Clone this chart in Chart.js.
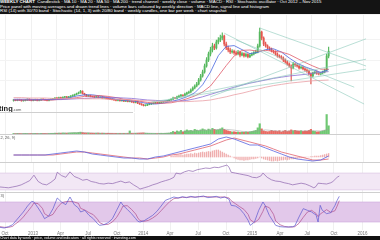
<!DOCTYPE html>
<html><head><meta charset="utf-8">
<script src="https://cdn.jsdelivr.net/npm/chart.js@4.4.1/dist/chart.umd.min.js"></script>
<style>
html,body{margin:0;padding:0;background:#fff;width:380px;height:240px;overflow:hidden;font-family:"Liberation Sans",Arial,sans-serif}
.p{position:absolute;left:0}
canvas{display:block}
#hdr{position:absolute;left:0;top:0;width:380px;height:14px;background:#141414;color:#fff;font-size:4.4px;line-height:4.6px;overflow:hidden;white-space:nowrap}
#ftr{position:absolute;left:0;top:236px;width:380px;height:4px;background:#111;color:#fff;font-size:3.6px;line-height:4px;overflow:hidden;white-space:nowrap}
.sep{position:absolute;left:0;height:1px;background:#cfcfcf}
.lab{position:absolute;font-size:4px;color:#555;white-space:nowrap}
#wm{position:absolute;left:-1px;top:104px;font-weight:bold;font-size:7.5px;color:#222;white-space:nowrap}
#wm span{font-weight:normal;font-size:4px;color:#555}
</style></head>
<body>
<div id="hdr"><b>WEEKLY CHART</b> &nbsp;Candlestick · MA 10 · MA 20 · MA 50 · MA 200 · trend channel · weekly close · volume · MACD · RSI · Stochastic oscillator · Oct 2012 – Nov 2015<br>Price panel with moving averages and drawn trend lines · volume bars coloured by weekly direction · MACD line, signal line and histogram<br>RSI (14) with 30/70 band · Stochastic (14, 1, 3) with 20/80 band · weekly candles, one bar per week · chart snapshot</div>
<canvas id="cMain" class="p" style="top:14px" width="380" height="98"></canvas>
<div id="wm">ting<span>.com</span></div>
<div class="sep" style="top:112px;width:133px"></div>
<canvas id="cVol" class="p" style="top:113px" width="380" height="21"></canvas>
<div class="sep" style="top:134px;width:380px"></div>
<canvas id="cMacd" class="p" style="top:135px" width="380" height="27"></canvas>
<div class="lab" style="left:-3px;top:135px">(12, 26, 9)</div>
<div class="sep" style="top:162px;width:380px"></div>
<canvas id="cRsi" class="p" style="top:163px" width="380" height="29"></canvas>
<div class="sep" style="top:192px;width:380px"></div>
<canvas id="cSto" class="p" style="top:193px" width="380" height="43"></canvas>
<div class="lab" style="left:-12px;top:193px">(14, 1, 3)</div>
<div id="ftr">Chart data by week · price, volume and indicators · all rights reserved · investing.com</div>
<script>
// ---------- DATA ----------
const tickWeeks  = [2.4, 15.6, 28.5, 41.5, 55.2, 67.5, 80.2, 93.4, 106.6, 119, 132, 145, 157.5, 171];
const tickLabels = ["Oct","2013","Apr","Jul","Oct","2014","Apr","Jul","Oct","2015","Apr","Jul","Oct","2016"];

const openP = [
0.49,0.50,0.49,0.51,0.50,0.48,0.49,0.50,0.52,0.50,
0.49,0.50,0.51,0.49,0.50,0.52,0.51,0.50,0.49,0.51,
0.52,0.53,0.55,0.54,0.56,0.55,0.57,0.58,0.56,0.58,
0.60,0.62,0.64,0.66,0.68,0.72,0.66,0.63,0.60,0.61,
0.59,0.58,0.57,0.58,0.56,0.57,0.55,0.56,0.54,0.53,
0.52,0.51,0.50,0.49,0.50,0.48,0.49,0.47,0.48,0.46,
0.47,0.45,0.44,0.46,0.42,0.40,0.38,0.36,0.37,0.39,
0.40,0.41,0.42,0.43,0.42,0.44,0.45,0.46,0.47,0.48,
0.50,0.52,0.55,0.54,0.58,0.60,0.62,0.61,0.65,0.68,
0.70,0.75,0.80,0.85,0.90,1.00,1.10,1.20,1.35,1.50,
1.65,1.75,1.85,1.80,1.95,2.00,2.05,2.10,1.90,1.80,
1.75,1.70,1.72,1.68,1.65,1.70,1.62,1.66,1.60,1.64,
1.58,1.62,1.65,1.68,1.70,1.85,2.20,2.05,1.90,1.85,
1.80,1.78,1.72,1.70,1.65,1.60,1.58,1.55,1.50,1.45,
1.40,1.35,1.30,1.40,1.38,1.35,1.30,1.32,1.28,1.25,
1.22,1.15,1.10,1.18,1.20,1.17,1.15,1.18,1.20,1.25,
1.60];
const highP = [
0.51,0.51,0.52,0.52,0.51,0.50,0.51,0.53,0.53,0.51,
0.51,0.52,0.52,0.51,0.53,0.53,0.52,0.51,0.52,0.53,
0.54,0.56,0.56,0.57,0.57,0.58,0.59,0.59,0.59,0.61,
0.63,0.65,0.67,0.70,0.74,0.73,0.67,0.64,0.62,0.62,
0.60,0.59,0.59,0.59,0.58,0.58,0.57,0.57,0.55,0.54,
0.53,0.52,0.51,0.51,0.51,0.50,0.50,0.49,0.49,0.48,
0.48,0.46,0.47,0.47,0.43,0.41,0.39,0.38,0.40,0.41,
0.42,0.43,0.44,0.44,0.45,0.46,0.47,0.48,0.49,0.51,
0.53,0.57,0.56,0.60,0.62,0.64,0.63,0.67,0.70,0.72,
0.78,0.83,0.88,0.94,1.04,1.14,1.25,1.40,1.56,1.70,
1.82,1.92,1.90,2.00,2.06,2.12,2.18,2.12,1.95,1.85,
1.80,1.76,1.75,1.72,1.74,1.72,1.70,1.68,1.68,1.66,
1.66,1.68,1.71,1.74,1.90,2.30,2.22,2.08,1.95,1.88,
1.83,1.80,1.75,1.73,1.68,1.63,1.61,1.58,1.53,1.48,
1.43,1.38,1.44,1.43,1.41,1.38,1.35,1.35,1.31,1.28,
1.25,1.18,1.20,1.22,1.23,1.20,1.20,1.22,1.27,1.65,
1.82];
const lowP = [
0.47,0.48,0.48,0.49,0.47,0.47,0.48,0.49,0.49,0.48,
0.48,0.49,0.48,0.48,0.49,0.50,0.49,0.48,0.48,0.50,
0.51,0.52,0.53,0.53,0.54,0.54,0.56,0.55,0.55,0.57,
0.59,0.61,0.63,0.65,0.67,0.65,0.62,0.59,0.59,0.58,
0.57,0.56,0.56,0.55,0.55,0.54,0.54,0.53,0.52,0.51,
0.50,0.49,0.48,0.48,0.47,0.47,0.46,0.46,0.45,0.45,
0.44,0.43,0.43,0.41,0.39,0.37,0.35,0.35,0.36,0.38,
0.39,0.40,0.41,0.41,0.41,0.43,0.44,0.45,0.46,0.47,
0.49,0.51,0.53,0.53,0.56,0.58,0.59,0.60,0.63,0.66,
0.68,0.73,0.78,0.83,0.88,0.97,1.07,1.17,1.32,1.46,
1.60,1.70,1.76,1.77,1.90,1.96,2.00,1.85,1.76,1.70,
1.66,1.67,1.64,1.62,1.63,1.58,1.60,1.57,1.58,1.55,
1.56,1.60,1.63,1.66,1.68,1.82,2.00,1.86,1.82,1.77,
1.74,1.70,1.67,1.62,1.57,1.55,1.52,1.46,1.42,1.37,
1.32,0.98,1.28,1.34,1.32,1.27,1.28,1.25,1.22,1.19,
1.12,0.90,1.08,1.15,1.14,1.13,1.13,1.16,1.18,1.22,
1.55];
const closeP = [
0.50,0.49,0.51,0.50,0.48,0.49,0.50,0.52,0.50,0.49,
0.50,0.51,0.49,0.50,0.52,0.51,0.50,0.49,0.51,0.52,
0.53,0.55,0.54,0.56,0.55,0.57,0.58,0.56,0.58,0.60,
0.62,0.64,0.66,0.68,0.72,0.66,0.63,0.60,0.61,0.59,
0.58,0.57,0.58,0.56,0.57,0.55,0.56,0.54,0.53,0.52,
0.51,0.50,0.49,0.50,0.48,0.49,0.47,0.48,0.46,0.47,
0.45,0.44,0.46,0.42,0.40,0.38,0.36,0.37,0.39,0.40,
0.41,0.42,0.43,0.42,0.44,0.45,0.46,0.47,0.48,0.50,
0.52,0.55,0.54,0.58,0.60,0.62,0.61,0.65,0.68,0.70,
0.75,0.80,0.85,0.90,1.00,1.10,1.20,1.35,1.50,1.65,
1.75,1.85,1.80,1.95,2.00,2.05,2.10,1.90,1.80,1.75,
1.70,1.72,1.68,1.65,1.70,1.62,1.66,1.60,1.64,1.58,
1.62,1.65,1.68,1.70,1.85,2.20,2.05,1.90,1.85,1.80,
1.78,1.72,1.70,1.65,1.60,1.58,1.55,1.50,1.45,1.40,
1.35,1.30,1.40,1.38,1.35,1.30,1.32,1.28,1.25,1.22,
1.15,1.10,1.18,1.20,1.17,1.15,1.18,1.20,1.25,1.60,
1.72];
const volume = [
0.5,0.4,0.6,0.5,0.4,0.5,0.6,0.5,0.4,0.5,
0.5,0.6,0.5,0.4,0.6,0.5,0.5,0.4,0.5,0.6,
0.6,0.8,0.7,0.9,0.8,1.0,0.9,0.8,1.0,1.1,
1.2,1.3,1.2,1.5,1.8,1.4,1.0,0.9,1.0,0.8,
0.8,0.7,0.8,0.9,0.7,0.8,0.7,0.6,0.7,0.6,
0.6,0.5,0.6,0.5,0.6,0.5,0.6,0.5,0.6,3.0,
0.6,0.5,0.7,0.8,0.9,1.0,1.1,0.8,0.7,0.6,
0.6,0.5,0.6,0.5,0.6,0.7,0.6,0.7,0.8,0.9,
1.5,2.5,1.8,3.0,2.2,3.5,2.0,3.0,4.0,3.2,
3.5,3.0,4.5,3.8,3.2,4.0,5.0,4.2,3.5,4.8,
4.0,5.5,4.5,3.8,4.2,5.0,6.0,4.5,3.5,3.0,
2.5,2.0,2.2,1.8,2.0,1.5,1.8,1.6,2.0,1.8,
2.2,2.5,3.0,3.5,6.0,10.0,5.0,3.0,2.5,2.2,
2.5,3.5,2.8,3.0,2.5,3.2,2.0,2.8,3.5,2.5,
3.0,4.0,3.2,3.5,3.0,2.8,3.2,2.5,3.0,2.8,
3.5,4.5,2.8,2.5,2.0,2.2,2.5,3.0,3.5,19.0,
8.0];

// indicator lines sampled every 4 weeks
const weeks4 = [0,4,8,12,16,20,24,28,32,36,40,44,48,52,56,60,64,68,72,76,80,84,88,92,96,100,104,108,112,116,120,124,128,132,136,140,144,148,152,156,160];
const ma10  = [0.50,0.50,0.50,0.50,0.51,0.51,0.53,0.55,0.60,0.63,0.63,0.60,0.56,0.52,0.49,0.48,0.45,0.41,0.40,0.42,0.46,0.51,0.58,0.68,0.88,1.20,1.61,1.84,1.86,1.76,1.66,1.69,1.76,1.78,1.70,1.55,1.42,1.33,1.26,1.19,1.26];
const ma20  = [0.50,0.50,0.50,0.50,0.50,0.50,0.52,0.53,0.56,0.59,0.60,0.61,0.59,0.56,0.52,0.50,0.47,0.44,0.42,0.42,0.43,0.47,0.53,0.60,0.70,0.85,1.10,1.36,1.60,1.74,1.75,1.72,1.74,1.72,1.70,1.64,1.54,1.44,1.35,1.27,1.27];
const ma50  = [0.52,0.52,0.52,0.51,0.51,0.51,0.51,0.52,0.53,0.54,0.55,0.56,0.56,0.56,0.55,0.54,0.52,0.50,0.49,0.48,0.47,0.47,0.49,0.53,0.58,0.64,0.70,0.76,0.82,0.87,0.92,0.96,1.00,1.04,1.07,1.10,1.12,1.14,1.17,1.19,1.21];
const ma200 = [0.56,0.56,0.55,0.55,0.55,0.54,0.54,0.54,0.54,0.53,0.53,0.53,0.52,0.52,0.51,0.50,0.49,0.48,0.47,0.46,0.46,0.46,0.46,0.47,0.48,0.50,0.54,0.58,0.63,0.67,0.72,0.77,0.82,0.86,0.89,0.92,0.94,0.96,0.98,0.99,1.00];
const volAvg = [0.5,0.5,0.5,0.5,0.5,0.6,0.7,0.9,1.2,1.3,1.0,0.8,0.7,0.6,0.6,0.8,0.8,0.8,0.6,0.6,0.8,1.8,2.5,3.2,3.6,4.0,4.4,4.5,3.8,2.6,1.9,3.0,4.0,3.2,2.8,2.9,3.0,3.0,3.2,3.0,4.5];
const macdLine   = [0.02,0.02,0.02,0.02,0.02,0.03,0.04,0.05,0.06,0.05,0.03,0.02,0.01,0.00,-0.01,-0.01,-0.02,-0.02,0.00,0.01,0.03,0.05,0.07,0.09,0.11,0.13,0.18,0.20,0.18,0.15,0.12,0.12,0.09,0.06,0.03,0.00,-0.02,-0.03,-0.04,-0.03,0.01];
const signalLine = [0.02,0.02,0.02,0.02,0.02,0.02,0.03,0.04,0.05,0.05,0.04,0.03,0.02,0.01,0.00,-0.01,-0.01,-0.02,-0.01,0.00,0.02,0.03,0.05,0.07,0.09,0.11,0.14,0.17,0.19,0.17,0.15,0.13,0.11,0.08,0.05,0.03,0.01,-0.01,-0.03,-0.03,-0.02];
const histStartWeek = 80;
const macdHist = [
0.01,0.01,0.015,0.02,0.02,0.025,0.02,0.025,0.03,0.03,
0.035,0.03,0.04,0.035,0.04,0.045,0.05,0.045,0.05,0.055,
0.05,0.06,0.065,0.07,0.07,0.06,0.05,0.04,0.03,0.02,
0.01,0.0,-0.01,-0.02,-0.025,-0.03,-0.03,-0.035,-0.03,-0.03,
-0.025,-0.02,-0.02,-0.015,-0.01,0.0,-0.01,-0.02,-0.025,-0.03,
-0.035,-0.04,-0.04,-0.035,-0.04,-0.035,-0.03,-0.03,-0.025,-0.03,
-0.025,-0.02,-0.02,-0.015,-0.015,-0.01,-0.01,-0.005,-0.005,0.0,
0.0,0.005,0.005,0.01,0.01,0.01,0.015,0.02,0.025,0.03,
0.035];

const rsiWeeks = [0,2,4,6,8,10,12,14,16,18,20,22,24,26,27,29,31,33,35,37,39,41,43,45,47,49,51,53,55,57,59,61,63,65,66,68,70,72,74,76,78,80,82,83,85,87,89,91,93,95,97,99,101,103,105,107,108,109,111,113,115,117,119,121,123,124,126,128,130,132,134,136,138,140,142,144,146,148,149,150,152,154,156,157,158,159,160];
const rsiValues = [37,36,35,37,39,42,47,52,65,50,44,42,48,56,72,64,60,73,62,58,53,55,50,48,45,44,46,45,48,51,47,49,42,36,32,35,38,42,45,49,52,55,60,70,68,73,76,74,78,80,82,81,84,83,86,89,84,72,70,68,66,64,60,59,63,70,60,54,51,50,47,45,42,44,46,44,40,35,38,46,45,44,47,50,55,60,63];

const stoWeeks = [0,2,4,6,7,9,11,13,15,16,18,20,21,23,25,27,29,31,33,35,37,38,40,42,44,46,47,49,51,53,55,57,58,60,62,64,65,66,68,70,72,74,76,78,80,82,84,86,88,90,92,94,96,98,100,102,104,106,108,109,111,113,115,117,118,120,122,124,125,127,129,130,132,134,136,138,139,141,143,145,147,148,149,150,151,152,154,156,158,159,160];
const stoK = [4,2,6,12,20,35,50,68,82,80,62,42,30,38,60,92,80,72,95,72,62,50,55,40,30,15,10,12,18,30,55,80,70,58,45,30,22,20,24,32,40,52,68,85,90,95,92,96,93,97,94,96,98,93,95,97,92,95,88,70,68,60,45,25,10,20,55,80,70,40,20,10,6,5,5,6,8,35,60,55,50,45,42,20,70,55,45,48,70,85,97];
const stoD = [6,4,4,7,13,22,35,51,67,77,75,61,45,37,43,63,77,81,82,80,76,61,56,48,42,28,18,12,13,20,34,55,68,69,58,44,32,24,22,25,32,41,54,68,81,90,92,94,94,95,95,96,96,96,95,95,95,95,92,84,75,66,58,43,27,18,28,52,68,63,43,23,12,7,5,5,6,16,34,50,55,50,46,36,44,48,57,49,54,68,84];

// drawn trend lines: [startWeek, startPrice, endWeek, endPrice]
const trendLines = [
  [125, 2.30, 179, 1.35],
  [107, 2.17, 178, 0.40],
  [113, 2.00, 173, 0.82],
  [100, 0.58, 179, 2.03],
  [80, 0.53, 179, 1.52],
  [70, 0.45, 179, 1.27]
];

// ---------- CHARTS ----------
const X_MIN = 0, X_MAX = 179.2;
const UP = '#56b85e', DOWN = '#e4574f';
const dir = closeP.map((c,i)=> c >= openP[i]);
const pts = (ws, vs) => vs.map((v,i)=>({x: ws[i], y: v}));
const idx = closeP.map((_,i)=>i);

function xScale(showLabels){
  return {
    type:'linear', min:X_MIN, max:X_MAX, position:'bottom',
    afterBuildTicks: sc => { sc.ticks = tickWeeks.map(v=>({value:v})); },
    grid:{color:'#f0f0f0', drawTicks:false, lineWidth:1},
    border:{display:false},
    ticks:{display:showLabels, autoSkip:false, maxRotation:0, padding:1, color:'#777',
           font:{size:4.5, family:'Liberation Sans'}, callback:(v,i)=>tickLabels[i]},
    afterFit: sc => { sc.height = showLabels ? 6 : 0; }
  };
}
function yScale(min, max, grid){
  return {type:'linear', position:'right', min, max,
    grid:{display:!!grid, color:'#f3f3f3', drawTicks:false},
    border:{display:false}, ticks:{display:false},
    afterFit: sc => { sc.width = 0; }};
}
const baseOpts = (ys, showX) => ({
  responsive:false, animation:false, devicePixelRatio:1, events:[],
  layout:{padding:0},
  plugins:{legend:{display:false}, tooltip:{enabled:false}},
  scales:{x:xScale(showX), y:ys}
});
const line = (data, color, w, extra) => Object.assign({type:'line', data, borderColor:color, borderWidth:w||0.8,
  pointRadius:0, tension:0, fill:false, spanGaps:true}, extra||{});

// Main price panel
const mainSets = [
  {type:'bar', data: idx.map(i=>({x:i, y:[openP[i], closeP[i]]})), backgroundColor: idx.map(i=>dir[i]?UP:DOWN),
   barThickness:1.2, grouped:false, minBarLength:0.6, order:2},
  {type:'bar', data: idx.map(i=>({x:i, y:[lowP[i], highP[i]]})), backgroundColor: idx.map(i=>dir[i]?UP:DOWN),
   barThickness:0.5, grouped:false, order:3},
  line(pts(weeks4, ma200), '#eaa0a6', 0.8, {order:1}),
  line(pts(weeks4, ma50), '#8a6fd4', 0.8, {order:1}),
  line(pts(weeks4, ma20), '#e05a6a', 0.8, {order:1}),
  line(pts(weeks4, ma10), '#4867e0', 0.8, {order:1})
];
trendLines.forEach(t => mainSets.push(line([{x:t[0],y:t[1]},{x:t[2],y:t[3]}], '#8cc9ba', 0.6, {order:0})));
new Chart(document.getElementById('cMain'), {type:'bar', data:{datasets:mainSets},
  options: baseOpts(yScale(0.2, 2.65, true), false)});

// Volume
new Chart(document.getElementById('cVol'), {type:'bar', data:{datasets:[
  line(pts(weeks4, volAvg), '#9a9a9a', 0.5, {order:0}),
  {type:'bar', data: idx.map(i=>({x:i, y:volume[i]})), backgroundColor: idx.map(i=>dir[i]?'rgba(86,190,90,0.85)':'rgba(228,80,70,0.85)'),
   barThickness:1.5, order:1}
]}, options: baseOpts(yScale(0, 20.5, false), false)});

// MACD
new Chart(document.getElementById('cMacd'), {type:'bar', data:{datasets:[
  line(pts(weeks4, macdLine), '#5a63e0', 0.8, {order:0}),
  line(pts(weeks4, signalLine), '#e0626e', 0.8, {order:0}),
  {type:'bar', data: macdHist.map((v,i)=>({x:histStartWeek+i, y:v})), backgroundColor:'rgba(228,110,110,0.55)',
   barThickness:0.7, order:1}
]}, options: baseOpts(yScale(-0.05, 0.22, false), false)});

// RSI
new Chart(document.getElementById('cRsi'), {type:'line', data:{datasets:[
  line(pts(rsiWeeks, rsiValues), '#8c63ad', 0.7, {order:0}),
  line([{x:X_MIN,y:70},{x:X_MAX,y:70}], '#d9c3e3', 0.6, {fill:{value:30}, backgroundColor:'#f2e7f5', order:5}),
  line([{x:X_MIN,y:30},{x:X_MAX,y:30}], '#d9c3e3', 0.6, {order:4})
]}, options: baseOpts(yScale(25, 94, false), false)});

// Stochastic
new Chart(document.getElementById('cSto'), {type:'line', data:{datasets:[
  line(pts(stoWeeks, stoK), '#5b57d0', 0.7, {order:0}),
  line(pts(stoWeeks, stoD), '#b04f8c', 0.7, {order:1}),
  line([{x:X_MIN,y:80},{x:X_MAX,y:80}], '#cfa9dc', 0.6, {fill:{value:20}, backgroundColor:'#e2c8ea', order:5}),
  line([{x:X_MIN,y:20},{x:X_MAX,y:20}], '#cfa9dc', 0.6, {order:4})
]}, options: baseOpts(yScale(-4, 107, false), true)});
</script>
</body></html>
